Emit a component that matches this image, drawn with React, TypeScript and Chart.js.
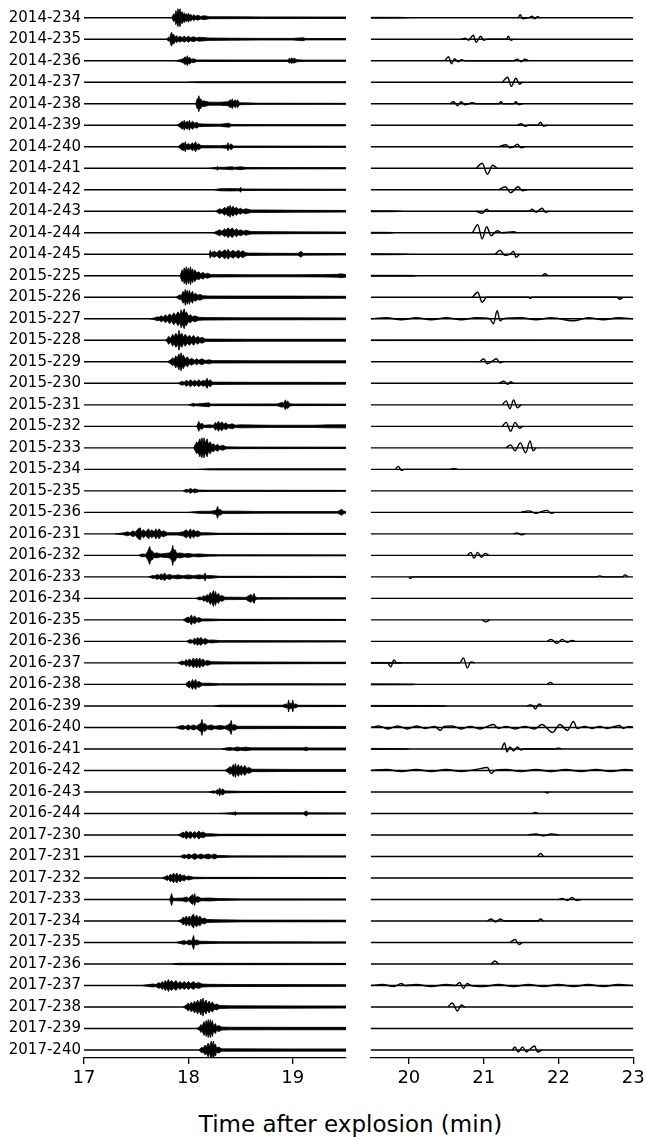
import React, { useEffect, useRef } from "react";
import { Chart, registerables } from "chart.js";

Chart.register(...registerables);

// ---------- DATA ----------
const TRACE_LABELS = [
  "2014-234", "2014-235", "2014-236", "2014-237", "2014-238", "2014-239", "2014-240",
  "2014-241", "2014-242", "2014-243", "2014-244", "2014-245",
  "2015-225", "2015-226", "2015-227", "2015-228", "2015-229", "2015-230", "2015-231",
  "2015-232", "2015-233", "2015-234", "2015-235", "2015-236",
  "2016-231", "2016-232", "2016-233", "2016-234", "2016-235", "2016-236", "2016-237",
  "2016-238", "2016-239", "2016-240", "2016-241", "2016-242", "2016-243", "2016-244",
  "2017-230", "2017-231", "2017-232", "2017-233", "2017-234", "2017-235", "2017-236",
  "2017-237", "2017-238", "2017-239", "2017-240",
];

const LEFT_RANGE = [17, 19.51];
const RIGHT_RANGE = [19.49, 23];
const LEFT_TICKS = [17, 18, 19];
const RIGHT_TICKS = [20, 21, 22, 23];
const X_TITLE = "Time after explosion (min)";

// amplitude units per trace spacing
const AMP_UNITS = 21.5;

// Left panel (17 - 19.5 min): signal envelopes [time, half-amplitude]
const LEFT_ENVELOPES: number[][][] = [
  [[17.84,0],[17.86,4],[17.87,2],[17.88,7],[17.89,4],[17.9,9],[17.91,5],[17.92,9],[17.93,4],[17.94,6],[17.95,3],[17.96,5],[17.97,2.5],[17.98,4],[17.99,2],[18.0,4.5],[18.01,2],[18.02,3.5],[18.04,1.5],[18.05,3],[18.07,1.5],[18.09,2.5],[18.12,1.2],[18.15,2],[18.2,1],[18.3,1],[18.5,0.9],[18.7,0.8],[19.0,0.8],[19.3,0.7],[19.51,0.7]],
  [[17.79,0],[17.81,2],[17.82,1],[17.83,5],[17.84,7],[17.85,3],[17.86,5],[17.87,2],[17.89,3.5],[17.9,1.5],[17.92,3],[17.94,1.5],[17.96,3],[17.98,1.5],[18.0,3],[18.02,1.5],[18.05,2.5],[18.08,1.2],[18.1,2],[18.2,1.2],[18.4,1],[18.7,0.8],[19.0,0.8],[19.1,1.5],[19.12,0.7],[19.51,0.7]],
  [[17.88,0],[17.92,1],[17.95,2],[17.97,4],[17.98,2],[17.99,5],[18.0,2],[18.01,3.5],[18.03,1.5],[18.05,2],[18.08,0.8],[18.5,0.7],[18.95,0.7],[18.97,2.5],[18.98,1.2],[18.99,3],[19.0,1.5],[19.01,2.5],[19.04,1],[19.1,0.6],[19.51,0.6]],
  [[18.0,0],[18.1,0.5],[19.51,0.5]],
  [[18.07,0],[18.085,5],[18.09,3],[18.1,8],[18.11,4],[18.12,5],[18.13,2],[18.14,3],[18.2,1.5],[18.3,1.5],[18.38,2],[18.4,4],[18.41,2],[18.42,5],[18.43,2],[18.45,4],[18.46,1.5],[18.47,4],[18.49,1],[18.6,0.8],[18.65,0.5],[19.51,0.4]],
  [[17.89,0],[17.92,2],[17.94,4],[17.95,2],[17.96,5],[17.97,2.5],[17.99,4],[18.0,2],[18.01,5],[18.02,2],[18.04,4],[18.06,2],[18.08,3],[18.1,1.5],[18.15,1.2],[18.3,1],[18.39,2],[18.41,0.8],[18.8,0.6],[19.51,0.6]],
  [[17.9,0],[17.93,2.5],[17.95,4],[17.96,2],[17.97,5],[17.98,2],[18.0,3],[18.02,2],[18.04,4],[18.05,2],[18.07,5],[18.08,2],[18.1,3],[18.12,1.2],[18.3,1],[18.37,1.5],[18.38,4],[18.39,1],[18.41,3],[18.43,0.8],[18.5,0.7],[19.51,0.6]],
  [[18.2,0],[18.27,1],[18.28,2],[18.29,0.8],[18.35,1],[18.42,1.5],[18.44,0.8],[18.5,1.5],[18.55,0.8],[18.7,0.7],[19.51,0.6]],
  [[18.25,0],[18.3,1],[18.4,1.2],[18.49,1],[18.5,2.5],[18.51,0.8],[18.6,0.7],[19.51,0.5]],
  [[18.26,0],[18.3,2.5],[18.32,1.5],[18.35,4],[18.36,2],[18.38,5],[18.39,3],[18.4,6],[18.41,3],[18.43,5],[18.44,2.5],[18.46,4],[18.48,2],[18.5,3],[18.52,1.5],[18.55,2.5],[18.6,1.3],[18.8,1.2],[19.0,1],[19.2,0.9],[19.51,0.8]],
  [[18.24,0],[18.28,2],[18.3,3],[18.32,1.5],[18.35,4],[18.36,2],[18.38,5],[18.4,2.5],[18.42,5],[18.44,2],[18.46,4],[18.48,2],[18.5,3],[18.53,1.5],[18.55,2.5],[18.6,1.2],[19.0,0.9],[19.51,0.8]],
  [[18.2,0],[18.21,4],[18.22,1.5],[18.25,3],[18.27,1.5],[18.3,4],[18.32,2],[18.35,4.5],[18.37,2],[18.38,5],[18.4,2],[18.43,4],[18.45,2],[18.48,4],[18.5,2],[18.52,3.5],[18.55,1.5],[18.58,1.2],[18.8,1],[19.05,0.9],[19.08,3],[19.1,0.9],[19.51,0.7]],
  [[17.92,0],[17.93,3],[17.94,6],[17.95,3],[17.96,8],[17.97,4],[17.98,9],[17.99,4],[18.0,8],[18.01,4],[18.02,9],[18.03,4],[18.04,7],[18.05,3],[18.06,6],[18.08,3],[18.1,4],[18.12,2],[18.14,3.5],[18.16,1.5],[18.18,2.5],[18.22,1.2],[18.3,1.2],[18.6,1],[19.0,1],[19.3,1.2],[19.43,1.5],[19.46,2],[19.51,1.2]],
  [[17.88,0],[17.92,2.5],[17.93,1.5],[17.95,6],[17.96,3],[17.97,8],[17.98,4],[17.99,7],[18.0,3],[18.01,7],[18.02,3],[18.04,6],[18.05,2.5],[18.07,4],[18.09,2],[18.11,3],[18.14,1.5],[18.2,1.3],[18.5,1.2],[19.0,1.2],[19.51,1]],
  [[17.63,0],[17.68,1],[17.7,2],[17.72,1.5],[17.74,3],[17.76,1.5],[17.78,4],[17.8,2],[17.82,5],[17.84,2.5],[17.86,6],[17.88,3],[17.9,7],[17.92,4],[17.93,9],[17.94,5],[17.96,10],[17.97,5],[17.98,7],[18.0,3],[18.02,4],[18.04,2],[18.06,3],[18.1,1.5],[18.15,1.3],[18.5,1],[19.0,1],[19.51,0.9]],
  [[17.78,0],[17.8,2],[17.81,4],[17.83,2],[17.85,6],[17.86,3],[17.88,7],[17.9,4],[17.91,10],[17.92,5],[17.94,7],[17.95,3],[17.97,6],[17.99,3],[18.01,5],[18.03,2.5],[18.05,5],[18.07,2],[18.09,4],[18.11,2],[18.13,3],[18.16,1.3],[18.2,1.2],[18.6,1],[19.0,1],[19.51,1]],
  [[17.8,0],[17.83,2],[17.85,4],[17.86,2],[17.88,6],[17.89,3],[17.91,8],[17.92,4],[17.93,9],[17.94,4],[17.95,7],[17.97,3],[17.99,5],[18.01,2],[18.03,3.5],[18.06,1.5],[18.08,3],[18.1,1.5],[18.13,3],[18.16,1.3],[18.2,2],[18.23,1.2],[18.4,1.2],[18.6,1.1],[19.0,1.1],[19.51,1.1]],
  [[17.9,0],[17.94,2],[17.96,1],[17.98,3],[18.0,1.5],[18.02,3.5],[18.04,1.5],[18.06,3],[18.08,1.5],[18.1,3.5],[18.12,1.5],[18.14,3],[18.16,2],[18.18,5],[18.19,2],[18.21,3.5],[18.23,1.2],[18.6,1],[19.0,1],[19.51,0.9]],
  [[18.0,0],[18.05,1.5],[18.07,0.8],[18.2,2],[18.21,0.8],[18.5,0.8],[18.85,0.9],[18.9,2.5],[18.91,1.2],[18.93,5],[18.94,2],[18.95,4],[18.97,1.2],[19.0,0.8],[19.51,0.7]],
  [[18.08,0],[18.1,5],[18.11,2],[18.13,3],[18.15,1],[18.2,1.5],[18.24,1],[18.26,4],[18.27,2],[18.29,5],[18.3,2],[18.32,4.5],[18.34,2],[18.36,3.5],[18.38,1.5],[18.42,2.5],[18.45,1.2],[18.5,1.5],[18.8,1.1],[19.2,1.1],[19.35,1.5],[19.51,1.5]],
  [[18.05,0],[18.07,4],[18.08,6],[18.09,4],[18.11,9],[18.12,5],[18.13,10],[18.14,5],[18.15,10],[18.16,5],[18.18,9],[18.19,4],[18.21,6],[18.22,3],[18.24,4],[18.26,2],[18.28,3.5],[18.3,1.5],[18.33,2.5],[18.36,1],[18.5,0.8],[19.51,0.7]],
  [[18.1,0],[18.2,0.6],[19.51,0.6]],
  [[17.95,0],[17.98,1.5],[18.0,1],[18.02,2.5],[18.04,1],[18.06,2],[18.1,0.8],[18.2,0.6],[19.51,0.5]],
  [[18.0,0],[18.1,1],[18.22,1.2],[18.26,2],[18.27,3],[18.28,6],[18.29,2],[18.3,3],[18.33,1.2],[18.5,1.2],[18.62,0.9],[19.0,0.8],[19.43,0.8],[19.47,3],[19.49,1],[19.51,0.9]],
  [[17.3,0],[17.38,1],[17.42,2],[17.44,1],[17.47,3],[17.49,1.5],[17.52,5],[17.54,6],[17.55,2],[17.57,4],[17.59,2],[17.62,5],[17.63,2],[17.65,4],[17.67,2],[17.69,5],[17.7,2],[17.72,5],[17.74,2],[17.76,3],[17.8,1.2],[17.9,1.2],[17.95,2],[17.98,4],[18.0,2],[18.02,5],[18.03,2],[18.05,4],[18.07,2],[18.09,3],[18.12,1.2],[18.2,1],[18.3,0.6],[19.51,0.5]],
  [[17.52,0],[17.56,1.5],[17.59,1],[17.61,4],[17.63,9],[17.64,4],[17.65,5],[17.67,2],[17.7,2.5],[17.73,1.5],[17.78,2],[17.82,2.5],[17.84,5],[17.85,10],[17.86,4],[17.87,6],[17.89,2],[17.92,2.5],[17.96,1.5],[18.0,2],[18.05,1.2],[18.1,1.5],[18.2,0.8],[18.3,0.6],[19.51,0.5]],
  [[17.62,0],[17.66,1.5],[17.68,1],[17.7,2.5],[17.72,1.5],[17.74,3],[17.76,1.5],[17.77,4],[17.79,1.5],[17.82,2.5],[17.85,1.2],[17.9,2],[17.95,1.2],[18.0,2],[18.05,1.2],[18.1,2],[18.15,1.5],[18.16,4],[18.17,1.2],[18.2,1.5],[18.3,0.6],[19.51,0.5]],
  [[18.07,0],[18.11,1.5],[18.13,1],[18.15,3],[18.16,1.5],[18.18,4],[18.19,2],[18.21,6],[18.22,3],[18.24,8],[18.25,3],[18.26,7],[18.27,3],[18.29,5],[18.3,2],[18.32,3],[18.35,1.2],[18.45,1.2],[18.55,1],[18.6,4],[18.61,1.5],[18.63,5],[18.64,1.5],[18.66,0.8],[19.0,0.7],[19.51,0.7]],
  [[17.95,0],[17.98,2],[18.0,3],[18.01,1.5],[18.03,5],[18.04,2],[18.06,4],[18.08,1.5],[18.1,2.5],[18.13,1],[18.2,1],[18.3,0.6],[19.51,0.5]],
  [[17.98,0],[18.02,2],[18.04,1],[18.06,3.5],[18.07,1.5],[18.09,4],[18.1,2],[18.12,4],[18.14,1.5],[18.16,3],[18.19,1.2],[18.22,1.5],[18.3,0.8],[19.51,0.6]],
  [[17.9,0],[17.94,2],[17.96,1],[17.98,3.5],[17.99,1.5],[18.01,4],[18.03,2],[18.05,5],[18.06,2],[18.08,5],[18.09,2],[18.11,5],[18.12,2],[18.14,4],[18.16,1.5],[18.18,2.5],[18.22,1.2],[18.4,1],[19.0,0.8],[19.51,0.7]],
  [[17.97,0],[17.99,2],[18.01,3.5],[18.02,1.5],[18.04,5],[18.05,2],[18.07,5],[18.08,2],[18.1,3],[18.13,1.2],[18.2,1.2],[18.3,0.7],[19.51,0.6]],
  [[18.25,0],[18.3,0.7],[18.9,0.7],[18.94,2],[18.95,1],[18.96,6],[18.97,1.5],[18.98,3],[18.99,1.5],[19.0,6],[19.01,1.5],[19.03,2],[19.05,0.7],[19.51,0.6]],
  [[17.88,0],[17.92,1.5],[17.95,2],[17.97,1],[18.0,2.5],[18.02,1.2],[18.05,2.5],[18.08,1.2],[18.1,3],[18.12,4],[18.13,8],[18.14,3],[18.16,4],[18.18,1.5],[18.22,2.5],[18.25,1.2],[18.3,2],[18.35,1.2],[18.38,2.5],[18.4,4],[18.41,7],[18.42,2],[18.44,3],[18.47,1.2],[18.55,1.2],[19.0,1.1],[19.51,1]],
  [[18.32,0],[18.36,1],[18.4,1.5],[18.43,1],[18.47,2],[18.5,1.2],[18.55,1.8],[18.6,1.1],[18.8,1.1],[19.1,1.1],[19.13,1.8],[19.15,1],[19.51,1]],
  [[18.35,0],[18.38,2],[18.4,4],[18.41,2],[18.43,6],[18.44,3],[18.45,7],[18.46,3],[18.48,6],[18.49,3],[18.51,5],[18.52,2],[18.54,5],[18.56,2],[18.58,3],[18.61,1.2],[18.7,1.2],[19.0,1],[19.51,1]],
  [[18.2,0],[18.24,1.2],[18.26,0.8],[18.28,2.5],[18.29,1.5],[18.3,4],[18.31,1.5],[18.33,3],[18.35,1],[18.38,1],[18.5,0.6],[19.51,0.5]],
  [[18.3,0],[18.4,0.6],[18.44,1],[18.45,2],[18.46,0.6],[19.1,0.6],[19.13,2.5],[19.15,0.6],[19.51,0.5]],
  [[17.9,0],[17.93,1.5],[17.95,3],[17.96,1.5],[17.98,4],[18.0,2],[18.02,3.5],[18.04,1.5],[18.06,3.5],[18.08,1.5],[18.1,4],[18.12,2],[18.14,3],[18.17,1.2],[18.22,1.2],[18.3,0.7],[19.51,0.6]],
  [[17.92,0],[17.96,2],[17.98,1],[18.0,2.5],[18.03,1.2],[18.06,3],[18.09,1.2],[18.12,2.5],[18.15,1.2],[18.19,2.5],[18.22,1.2],[18.25,2.5],[18.28,1],[18.32,1],[18.4,0.6],[19.51,0.5]],
  [[17.75,0],[17.78,1.5],[17.8,2.5],[17.81,1.2],[17.83,4],[17.84,2],[17.86,5],[17.87,2],[17.89,5],[17.9,2],[17.92,4],[17.94,2],[17.96,3],[17.98,1.2],[18.0,2],[18.05,0.8],[18.15,0.6],[19.51,0.5]],
  [[17.82,0],[17.83,3],[17.84,6],[17.85,1.5],[17.87,1.2],[17.95,1.5],[17.98,2.5],[18.0,1.2],[18.02,3],[18.04,5],[18.05,2],[18.06,6],[18.07,2],[18.09,3],[18.12,1.2],[18.2,1.5],[18.3,0.9],[18.5,0.6],[19.51,0.5]],
  [[17.9,0],[17.94,2],[17.95,4],[17.96,2],[17.98,5],[17.99,2.5],[18.01,5],[18.02,2.5],[18.04,6],[18.05,7],[18.06,3],[18.08,6],[18.09,3],[18.11,5],[18.13,2],[18.15,3],[18.18,1.5],[18.3,1.2],[18.5,0.9],[19.51,0.8]],
  [[17.88,0],[17.93,1.2],[17.96,2],[17.98,1],[18.01,2.5],[18.03,1.2],[18.04,4],[18.05,7],[18.06,2],[18.08,2.5],[18.11,1.2],[18.15,1.2],[18.3,0.7],[19.51,0.6]],
  [[17.85,0],[17.9,0.7],[19.51,0.6]],
  [[17.55,0],[17.62,1],[17.66,1.5],[17.69,1],[17.72,3],[17.73,1.5],[17.75,4],[17.76,2],[17.78,5],[17.79,2.5],[17.81,6],[17.82,3],[17.84,5],[17.86,2.5],[17.88,5],[17.9,2],[17.92,4],[17.94,2],[17.96,4],[17.98,2],[18.0,4],[18.02,2],[18.05,4],[18.07,2],[18.1,3],[18.13,1.5],[18.2,1.2],[18.4,1],[19.0,0.9],[19.51,0.8]],
  [[17.95,0],[17.98,2],[18.0,4],[18.01,2],[18.03,5],[18.04,2.5],[18.06,6],[18.07,3],[18.09,7],[18.1,3],[18.12,8],[18.13,4],[18.14,9],[18.15,4],[18.17,7],[18.18,3],[18.2,6],[18.21,3],[18.23,5],[18.25,2],[18.27,3],[18.3,1.5],[18.4,1.2],[19.0,1.1],[19.51,1]],
  [[18.08,0],[18.11,2],[18.12,4],[18.13,2],[18.15,7],[18.16,3],[18.17,8],[18.18,4],[18.19,9],[18.2,4],[18.21,9],[18.22,4],[18.23,8],[18.24,3],[18.26,5],[18.27,2],[18.29,3],[18.32,1.5],[18.4,1.3],[19.0,1.2],[19.51,1.2]],
  [[18.1,0],[18.12,2],[18.13,3],[18.14,1.5],[18.16,5],[18.17,2.5],[18.19,7],[18.2,3],[18.22,9],[18.23,4],[18.24,9],[18.25,4],[18.26,6],[18.27,2],[18.29,3],[18.32,1.2],[18.4,1.2],[19.0,1.1],[19.51,1.1]],
];

// Right panel (19.5 - 23 min): background noise envelopes [time, half-amplitude]
const RIGHT_NOISE: number[][][] = [
  [[19.49,0.45],[19.9,0.4],[20.0,0]],
  [], [], [], [], [], [], [], [],
  [[19.49,0.55],[19.8,0.45],[19.9,0]],
  [[19.49,0.55],[19.75,0.45],[19.8,0]],
  [[19.49,0.55],[19.9,0.4],[20.0,0]],
  [[19.49,0.55],[20.05,0.45],[20.1,0]],
  [], [],
  [[19.49,0.3],[23,0.25]],
  [], [], [], [], [], [], [], [], [], [], [], [], [], [],
  [[19.49,0.55],[19.8,0.45],[19.9,0]],
  [[19.49,0.55],[20.05,0.45],[20.1,0]],
  [[19.49,0.55],[20.4,0.45],[20.5,0]],
  [],
  [[19.49,0.55],[19.9,0.4],[20.0,0]],
  [], [], [], [], [], [], [], [], [], [], [], [], [], [],
  [[19.49,0.5],[20.2,0.4],[20.3,0]],
];

// Right panel: distinct arrivals [time, signed amplitude]
const RIGHT_WIGGLES: number[][][] = [
  [[21.46,0],[21.49,3],[21.52,-1],[21.6,0],[21.65,1.5],[21.68,-1],[21.72,1],[21.76,0]],
  [[20.7,0],[20.75,1],[20.8,-1],[20.86,4],[20.9,-3],[20.96,3],[21.0,-1],[21.05,0],[21.3,0],[21.33,3],[21.36,-1],[21.4,0]],
  [[20.48,0],[20.53,4],[20.57,-3],[20.61,2],[20.66,-1],[20.7,1],[20.75,0],[21.4,0],[21.45,1.5],[21.5,-1],[21.55,1.5],[21.6,0]],
  [[21.25,0],[21.32,5],[21.37,-4],[21.43,4],[21.48,-2],[21.52,0]],
  [[20.55,0],[20.6,2],[20.65,-2],[20.7,2],[20.75,-1],[20.85,1],[20.9,0],[21.2,0],[21.23,2],[21.26,0],[21.4,0],[21.43,2],[21.47,-1],[21.52,0]],
  [[21.45,0],[21.5,1.5],[21.55,-1],[21.6,0],[21.72,0],[21.76,3],[21.8,-1],[21.85,0]],
  [[21.2,0],[21.3,2],[21.35,-1],[21.4,0],[21.45,2.5],[21.5,-1],[21.55,0]],
  [[20.9,0],[20.98,5],[21.05,-6],[21.12,3],[21.18,0]],
  [[21.2,0],[21.29,3],[21.36,-3],[21.46,3],[21.52,-1],[21.58,0]],
  [[20.9,0],[20.98,-2],[21.04,2],[21.08,0],[21.6,0],[21.65,2],[21.7,-1],[21.78,3],[21.83,-1],[21.88,0]],
  [[20.85,0],[20.92,8],[20.98,-6],[21.04,6],[21.1,-3],[21.18,2],[21.25,0],[21.4,1],[21.45,0]],
  [[21.15,0],[21.22,4],[21.28,-1],[21.35,0],[21.4,3],[21.43,-3],[21.48,0]],
  [[21.78,0],[21.82,2],[21.86,0]],
  [[20.85,0],[20.92,5],[20.98,-5],[21.04,0],[21.6,0],[21.62,-1],[21.65,0],[22.78,0],[22.82,-2],[22.86,0]],
  [[19.49,0],[19.7,1],[19.9,-1],[20.1,1],[20.3,-1],[20.5,1],[20.7,-1],[20.9,1],[21.08,0],[21.13,-5],[21.18,8],[21.22,-2],[21.26,0],[21.5,1],[21.7,-1],[21.9,1],[22.2,-2],[22.4,1],[22.6,-1],[22.8,1],[23,0]],
  [],
  [[20.95,0],[21.0,3],[21.05,-2],[21.12,1],[21.17,3],[21.22,-1],[21.26,0]],
  [[21.2,0],[21.27,2],[21.32,-1],[21.36,1.5],[21.4,0]],
  [[21.25,0],[21.3,4],[21.35,-4],[21.4,5],[21.45,-3],[21.5,0]],
  [[21.25,0],[21.3,4],[21.36,-5],[21.42,4],[21.48,-2],[21.52,0]],
  [[21.3,0],[21.36,3],[21.42,-3],[21.49,5],[21.56,-5],[21.62,7],[21.66,-3],[21.7,0]],
  [[19.82,0],[19.86,3],[19.9,-1],[19.94,0],[20.55,0],[20.6,1],[20.65,0]],
  [],
  [[21.5,0],[21.6,1.5],[21.7,-1],[21.78,1],[21.85,2],[21.9,-1],[21.95,0]],
  [[21.4,0],[21.45,1],[21.5,-1],[21.55,0]],
  [[20.78,0],[20.83,3],[20.87,-3],[20.92,3],[20.97,-2],[21.02,2],[21.07,0]],
  [[20.0,0],[20.02,-1.5],[20.05,0],[22.5,0],[22.55,1],[22.6,0],[22.85,0],[22.89,2],[22.93,0]],
  [],
  [[20.98,0],[21.03,-2],[21.08,0]],
  [[21.85,0],[21.9,2],[21.98,-2],[22.05,2],[22.12,-1],[22.18,1],[22.22,0]],
  [[19.72,0],[19.76,-4],[19.8,3],[19.84,0],[20.68,0],[20.73,5],[20.78,-5],[20.83,1],[20.88,0]],
  [[21.85,0],[21.89,2],[21.93,0]],
  [[21.58,0],[21.62,1],[21.66,0],[21.69,-3],[21.74,2],[21.78,0]],
  [[19.49,0],[19.6,1.5],[19.72,-1.5],[19.85,1.5],[19.98,-1.5],[20.1,1.5],[20.22,-1],[20.35,1],[20.42,-3],[20.47,1],[20.58,1.5],[20.7,-1.5],[20.82,1],[20.95,-1.5],[21.05,1],[21.13,3],[21.2,-1],[21.3,1],[21.42,-1.5],[21.55,1],[21.68,-1.5],[21.78,3],[21.92,-5],[22.02,3],[22.12,-3],[22.2,6],[22.25,-1],[22.35,1],[22.45,-1],[22.55,1],[22.65,-1],[22.75,1],[22.82,2],[22.86,-1],[22.95,1],[23.0,0]],
  [[21.24,0],[21.28,6],[21.31,-3],[21.35,2],[21.4,-2],[21.45,2],[21.5,-1],[21.55,0],[21.96,0],[22.0,1],[22.04,0]],
  [[19.49,0],[19.7,1],[19.9,-1],[20.1,1],[20.3,-1],[20.5,1],[20.7,-1],[20.9,1],[21.05,3],[21.1,-3],[21.15,0],[21.3,1],[21.5,-1],[21.7,1],[21.9,-1],[22.1,1],[22.3,-1],[22.5,1],[22.7,-1],[22.9,1],[23.0,0]],
  [[21.82,0],[21.85,-1],[21.88,0]],
  [[21.65,0],[21.69,1],[21.73,0]],
  [[21.6,0],[21.7,1],[21.8,-1],[21.9,1],[22.0,0]],
  [[21.72,0],[21.76,3],[21.8,0]],
  [],
  [[22.0,0],[22.05,1],[22.12,-1],[22.18,2],[22.24,-1],[22.3,0]],
  [[21.05,0],[21.1,2],[21.16,-1],[21.22,2],[21.28,0],[21.72,0],[21.76,2],[21.8,0]],
  [[21.35,0],[21.42,3],[21.47,-2],[21.52,0]],
  [[21.1,0],[21.15,3],[21.2,0]],
  [[19.49,0],[19.65,1],[19.8,-1],[19.9,2],[19.95,0],[20.1,1],[20.3,-1],[20.5,1],[20.62,0],[20.68,3],[20.73,-3],[20.78,2],[20.83,0],[21.0,-1],[21.2,1],[21.4,-1],[21.6,1],[21.8,-1],[22.0,1],[22.2,-1],[22.4,1],[22.6,-1],[22.8,1],[23.0,0]],
  [[20.52,0],[20.58,4],[20.65,-4],[20.7,2],[20.75,0]],
  [],
  [[21.38,0],[21.42,3],[21.46,-2],[21.52,3],[21.57,-2],[21.62,1],[21.68,4],[21.72,-2],[21.78,0]],
];

// ---------- LAYOUT ----------
const FONT = "'DejaVu Sans', sans-serif";
const CANVAS_H = 1100;
const X_AXIS_H = 42;
const Y_MIN = -0.823;
const Y_MAX = 48.37;

type Pt = { x: number; y: number };

function envelopeDatasets(i: number, env: number[][]) {
  if (!env.length) return [];
  const upper: Pt[] = env.map(([t, a]) => ({ x: t, y: i - a / AMP_UNITS }));
  const lower: Pt[] = env.map(([t, a]) => ({ x: t, y: i + a / AMP_UNITS }));
  return [
    {
      data: upper,
      borderColor: "#000",
      backgroundColor: "#000",
      borderWidth: 0.8,
      pointRadius: 0,
      tension: 0,
      fill: "+1",
    },
    {
      data: lower,
      borderColor: "#000",
      backgroundColor: "#000",
      borderWidth: 0.8,
      pointRadius: 0,
      tension: 0,
      fill: false,
    },
  ];
}

function baselineDataset(i: number, range: number[]) {
  return {
    data: [
      { x: range[0], y: i },
      { x: range[1], y: i },
    ],
    borderColor: "#000",
    borderWidth: 1.4,
    pointRadius: 0,
    fill: false,
  };
}

function wiggleDataset(i: number, wig: number[][]) {
  return {
    data: wig.map(([t, v]) => ({ x: t, y: i - v / AMP_UNITS })),
    borderColor: "#000",
    borderWidth: 1.4,
    pointRadius: 0,
    cubicInterpolationMode: "monotone" as const,
    borderJoinStyle: "round" as const,
    fill: false,
  };
}

function makeOptions(
  range: number[],
  ticks: number[],
  showY: boolean,
  padding: { left: number; right: number }
) {
  return {
    animation: false as const,
    responsive: false,
    maintainAspectRatio: false,
    events: [] as any[],
    layout: { padding: { left: padding.left, right: padding.right, top: 0, bottom: 0 } },
    plugins: {
      legend: { display: false },
      tooltip: { enabled: false },
      title: { display: false },
    },
    elements: { point: { radius: 0 } },
    scales: {
      x: {
        type: "linear" as const,
        min: range[0],
        max: range[1],
        afterBuildTicks: (s: any) => {
          s.ticks = ticks.map((v) => ({ value: v }));
        },
        afterFit: (s: any) => {
          s.paddingLeft = 0;
          s.paddingRight = 0;
          s.height = X_AXIS_H;
        },
        grid: {
          drawOnChartArea: false,
          drawTicks: true,
          tickLength: 6,
          color: "#000",
          lineWidth: 1.3,
        },
        border: { display: true, color: "#000", width: 1.3 },
        ticks: {
          color: "#000",
          font: { family: FONT, size: 18 },
          padding: 4,
          maxRotation: 0,
          autoSkip: false,
          callback: (v: any) => String(v),
        },
      },
      y: {
        type: "linear" as const,
        display: showY,
        reverse: true,
        min: Y_MIN,
        max: Y_MAX,
        afterBuildTicks: (s: any) => {
          s.ticks = TRACE_LABELS.map((_, i) => ({ value: i }));
        },
        afterFit: (s: any) => {
          if (showY) s.width = 84;
          s.paddingTop = 0;
          s.paddingBottom = 0;
        },
        grid: { display: false, drawTicks: false },
        border: { display: false },
        ticks: {
          color: "#000",
          font: { family: FONT, size: 15 },
          padding: 3,
          autoSkip: false,
          callback: (v: any) => TRACE_LABELS[Math.round(Number(v))] ?? "",
        },
      },
    },
  };
}

export default function App() {
  const leftRef = useRef<HTMLCanvasElement | null>(null);
  const rightRef = useRef<HTMLCanvasElement | null>(null);

  useEffect(() => {
    const leftSets: any[] = [];
    TRACE_LABELS.forEach((_, i) => {
      leftSets.push(baselineDataset(i, LEFT_RANGE));
      leftSets.push(...envelopeDatasets(i, LEFT_ENVELOPES[i] || []));
    });
    const rightSets: any[] = [];
    TRACE_LABELS.forEach((_, i) => {
      rightSets.push(baselineDataset(i, RIGHT_RANGE));
      rightSets.push(...envelopeDatasets(i, RIGHT_NOISE[i] || []));
      const w = RIGHT_WIGGLES[i] || [];
      if (w.length) rightSets.push(wiggleDataset(i, w));
    });

    const left = new Chart(leftRef.current as HTMLCanvasElement, {
      type: "line",
      data: { datasets: leftSets },
      options: makeOptions(LEFT_RANGE, LEFT_TICKS, true, { left: 0, right: 4 }) as any,
    });
    const right = new Chart(rightRef.current as HTMLCanvasElement, {
      type: "line",
      data: { datasets: rightSets },
      options: makeOptions(RIGHT_RANGE, RIGHT_TICKS, false, { left: 20.7, right: 12.7 }) as any,
    });
    return () => {
      left.destroy();
      right.destroy();
    };
  }, []);

  return (
    <div
      style={{
        position: "absolute",
        left: 0,
        top: 0,
        width: 646,
        height: 1139,
        background: "#fff",
        overflow: "hidden",
      }}
    >
      <canvas
        ref={leftRef}
        width={350}
        height={CANVAS_H}
        style={{ position: "absolute", left: 0, top: 0, width: 350, height: CANVAS_H }}
      />
      <canvas
        ref={rightRef}
        width={296}
        height={CANVAS_H}
        style={{ position: "absolute", left: 350, top: 0, width: 296, height: CANVAS_H }}
      />
      <div
        style={{
          position: "absolute",
          left: 0,
          top: 1111,
          width: 701,
          textAlign: "center",
          fontFamily: FONT,
          fontSize: 23,
          lineHeight: "27px",
          color: "#000",
          whiteSpace: "nowrap",
        }}
      >
        {X_TITLE}
      </div>
    </div>
  );
}
